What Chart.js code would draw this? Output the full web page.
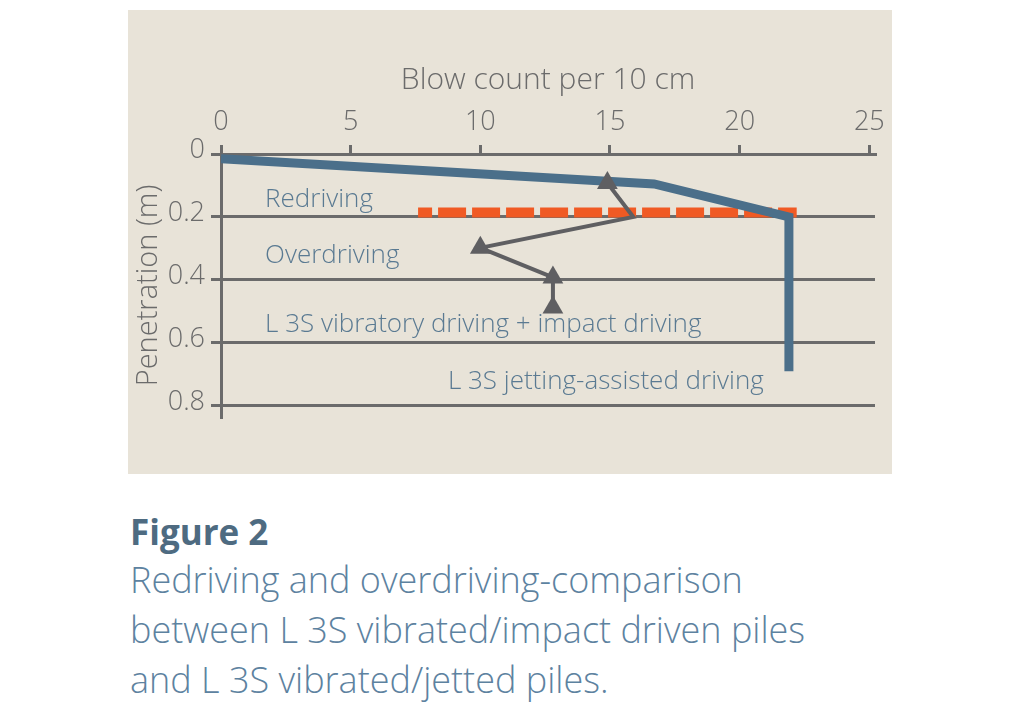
<!DOCTYPE html>
<html>
<head>
<meta charset="utf-8">
<script src="https://cdn.jsdelivr.net/npm/chart.js@4"></script>
<style>
  body { margin: 0; background: #fff; width: 1024px; height: 712px; position: relative; overflow: hidden; }
  #panel { position: absolute; left: 128px; top: 10px; width: 764px; height: 464px; background: #e8e3d8; }
  #panel canvas { position: absolute; left: 0; top: 0; }
  .cap { position: absolute; left: 130px; font-family: "Open Sans", sans-serif; white-space: nowrap; }
  #figno { top: 508px; font-size: 35px; font-weight: 700; color: #4e6b81; }
  #figtxt { top: 555px; font-size: 36px; font-weight: 300; line-height: 50px; color: #5d82a0; }
</style>
</head>
<body>
<div id="panel"><canvas id="chart" width="764" height="464"></canvas></div>
<div class="cap" id="figno">Figure 2</div>
<div class="cap" id="figtxt">Redriving and overdriving-comparison<br>between L 3S vibrated/impact driven piles<br>and L 3S vibrated/jetted piles.</div>
<script>
/* datos */
const xTicks = [0, 5, 10, 15, 20, 25];
const yTicks = [0, 0.2, 0.4, 0.6, 0.8];

// L 3S jetting-assisted driving (linea azul)
const jetBlows = [0, 16.7, 21.9, 21.9];
const jetDepth = [0.015, 0.095, 0.2, 0.69];

// redriving (linea naranja discontinua)
const redriveBlows = [7.6, 22.2];
const redriveDepth = [0.186, 0.186];

// L 3S vibratory + impact driving (linea gris con triangulos)
const impactBlows = [14.9, 15.9, 10, 12.8, 12.8];
const impactDepth = [0.092, 0.2, 0.298, 0.392, 0.487];
const impactMarker = [12, 0, 12, 12, 12];

// etiquetas dentro del grafico
const noteTexts = ["Redriving", "Overdriving", "L 3S vibratory driving + impact driving", "L 3S jetting-assisted driving"];
const noteBlows = [1.7, 1.7, 1.7, 8.75];
const noteDepth = [0.146, 0.322, 0.543, 0.724];

const toPoints = (xs, ys) => xs.map((x, i) => ({ x: x, y: ys[i] }));

const FONT = "'Open Sans', sans-serif";
const gray = "#6b6b6b";

const notesPlugin = {
  id: "notes",
  afterDatasetsDraw(chart) {
    const ctx = chart.ctx;
    const xs = chart.scales.x, ys = chart.scales.y;
    ctx.save();
    ctx.font = "300 26px " + FONT;
    ctx.fillStyle = "#5a7a92";
    ctx.textAlign = "left";
    ctx.textBaseline = "middle";
    noteTexts.forEach((t, i) => {
      ctx.fillText(t, xs.getPixelForValue(noteBlows[i]), ys.getPixelForValue(noteDepth[i]));
    });
    ctx.restore();
  },
};

const ctx = document.getElementById("chart").getContext("2d");

new Chart(ctx, {
  type: "line",
  data: {
    datasets: [
      {
        label: "L 3S vibratory driving + impact driving",
        data: toPoints(impactBlows, impactDepth),
        borderColor: "#5f5f62",
        borderWidth: 4,
        pointStyle: "triangle",
        pointRadius: impactMarker,
        pointBackgroundColor: "#5f5f62",
        pointBorderWidth: 0,
        order: 0,
      },
      {
        label: "L 3S jetting-assisted driving",
        data: toPoints(jetBlows, jetDepth),
        borderColor: "#4b6f8a",
        borderWidth: 9,
        pointRadius: 0,
        order: 1,
      },
      {
        label: "Redriving",
        data: toPoints(redriveBlows, redriveDepth),
        borderColor: "#f05a24",
        borderWidth: 10,
        borderDash: [28, 6],
        borderDashOffset: 14,
        borderCapStyle: "butt",
        pointRadius: 0,
        order: 2,
      },
    ],
  },
  options: {
    responsive: false,
    animation: false,
    layout: { padding: { left: 0, top: 0, right: 17, bottom: 57 } },
    plugins: {
      legend: { display: false },
      tooltip: { enabled: false },
    },
    scales: {
      x: {
        type: "linear",
        position: "top",
        min: 0,
        max: 25.22,
        afterBuildTicks: (scale) => { scale.ticks = xTicks.map((v) => ({ value: v })); },
        afterFit: (scale) => { scale.height = 144; },
        ticks: { color: gray, padding: 6, font: { family: FONT, size: 27, weight: 300 } },
        grid: { drawOnChartArea: false, tickLength: 9, tickWidth: 3, color: gray, lineWidth: 3 },
        border: { display: true, color: gray, width: 3 },
        title: {
          display: true,
          text: "Blow count per 10 cm",
          color: gray,
          padding: { top: 52, bottom: 0 },
          font: { family: FONT, size: 30, weight: 300 },
        },
      },
      y: {
        type: "linear",
        reverse: true,
        min: 0,
        max: 0.835,
        afterBuildTicks: (scale) => { scale.ticks = yTicks.map((v) => ({ value: v })); },
        afterFit: (scale) => { scale.width = 93; },
        ticks: {
          color: gray,
          padding: 6,
          labelOffset: -4,
          font: { family: FONT, size: 27, weight: 300 },
          callback: (v) => String(v),
        },
        grid: { drawOnChartArea: true, tickLength: 10, color: gray, lineWidth: 3 },
        border: { display: true, color: gray, width: 3 },
        title: {
          display: true,
          text: "Penetration (m)",
          color: gray,
          padding: { top: 3, bottom: 0 },
          font: { family: FONT, size: 29, weight: 300 },
        },
      },
    },
  },
  plugins: [notesPlugin],
});
</script>
</body>
</html>
